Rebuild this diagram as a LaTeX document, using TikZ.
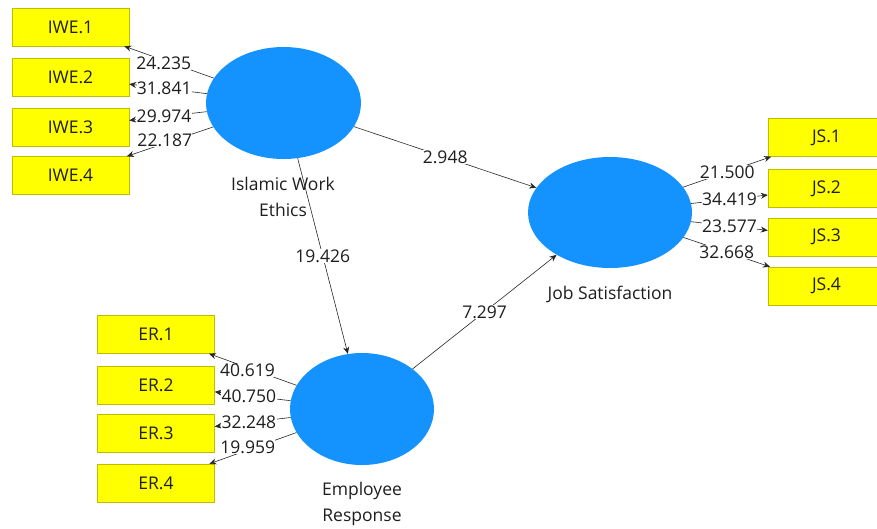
\documentclass[tikz,border=0pt]{standalone}
\usepackage{fontspec}
\setmainfont{Open Sans}
\usepackage{tikz}
\usetikzlibrary{shapes.geometric, arrows.meta}

\definecolor{lvblue}{RGB}{20,147,255}
\definecolor{mvyellow}{RGB}{255,255,0}
\definecolor{mvborder}{RGB}{190,190,0}
\definecolor{txtgray}{RGB}{30,30,30}

\begin{document}
\begin{tikzpicture}[
        x=1pt, y=-1pt,
        font=\fontsize{17.5}{26}\selectfont,
        text=txtgray,
        latent/.style={ellipse, fill=lvblue, inner sep=0pt},
        indicator/.style={rectangle, draw=mvborder, fill=mvyellow, minimum width=117pt, minimum height=38pt, inner sep=0pt},
        path/.style={draw=black!85, line width=0.6pt, -{Stealth[length=7pt, width=6pt]}},
        weight/.style={fill=white, inner sep=0.3pt, text=txtgray}
    ]

    \useasboundingbox (0,0) rectangle (877,528);
    \clip (0,0) rectangle (877,528);

    % Latent variables
    \node[latent, minimum width=155pt, minimum height=112pt] (IWE) at (283.5, 103) {};
    \node[latent, minimum width=164pt, minimum height=111pt] (JS) at (610, 212.5) {};
    \node[latent, minimum width=144pt, minimum height=112pt] (ER) at (362, 409) {};

    % Latent variable names
    \node[align=center] (IWElabel) at (283, 197) {Islamic Work\\Ethics};
    \node (JSlabel) at (610, 294) {Job Satisfaction};
    \node[align=center] (ERlabel) at (362, 504) {Employee\\Response};

    % Indicators of IWE
    \node[indicator] (IWE1) at (70.5, 27) {IWE.1};
    \node[indicator] (IWE2) at (70.5, 77) {IWE.2};
    \node[indicator] (IWE3) at (70.5, 127) {IWE.3};
    \node[indicator] (IWE4) at (70.5, 175.5) {IWE.4};

    % Indicators of JS
    \node[indicator] (JS1) at (826.5, 137.5) {JS.1};
    \node[indicator] (JS2) at (826.5, 188.5) {JS.2};
    \node[indicator] (JS3) at (826.5, 237) {JS.3};
    \node[indicator] (JS4) at (826.5, 286) {JS.4};

    % Indicators of ER
    \node[indicator] (ER1) at (156, 334.5) {ER.1};
    \node[indicator] (ER2) at (156, 385) {ER.2};
    \node[indicator] (ER3) at (156, 433.5) {ER.3};
    \node[indicator] (ER4) at (156, 483) {ER.4};

    % Outer loadings IWE
    \draw[path] (IWE) -- (IWE1) node[weight, pos=0.56, yshift=-3pt] {24.235};
    \draw[path] (IWE) -- (IWE2) node[weight, pos=0.55] {31.841};
    \draw[path] (IWE) -- (IWE3) node[weight, pos=0.55] {29.974};
    \draw[path] (IWE) -- (IWE4) node[weight, pos=0.56, yshift=3pt] {22.187};

    % Outer loadings JS
    \draw[path] (JS) -- (JS1) node[weight, midway] {21.500};
    \draw[path] (JS) -- (JS2) node[weight, midway] {34.419};
    \draw[path] (JS) -- (JS3) node[weight, midway] {23.577};
    \draw[path] (JS) -- (JS4) node[weight, midway] {32.668};

    % Outer loadings ER
    \draw[path] (ER) -- (ER1) node[weight, pos=0.56, yshift=-3pt] {40.619};
    \draw[path] (ER) -- (ER2) node[weight, pos=0.55] {40.750};
    \draw[path] (ER) -- (ER3) node[weight, pos=0.55] {32.248};
    \draw[path] (ER) -- (ER4) node[weight, pos=0.56, yshift=3pt] {19.959};

    % --- Inner model ---
    \draw[path] (IWE) -- (JS) node[weight, midway] {2.948};
    \draw[path] (IWE) -- (ER) node[weight, midway] {19.426};
    \draw[path] (ER) -- (JS) node[weight, midway] {7.297};
\end{tikzpicture}
\end{document}
